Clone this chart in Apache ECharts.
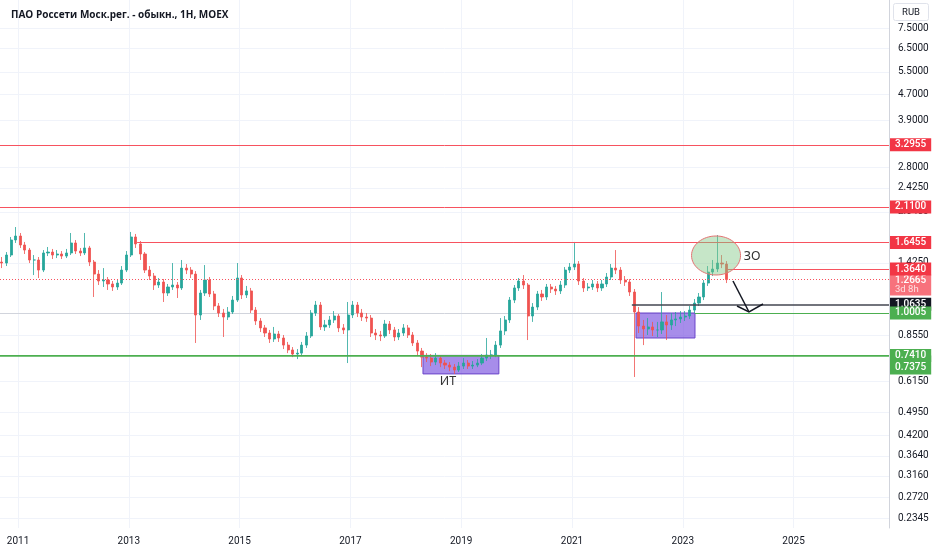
<!DOCTYPE html>
<html>
<head>
<meta charset="utf-8">
<script src="https://cdn.jsdelivr.net/npm/echarts@6/dist/echarts.min.js"></script>
<style>
html, body { margin: 0; padding: 0; background: #fff; }
#main { width: 932px; height: 550px; }
</style>
</head>
<body>
<div id="main"></div>
<script>
// monthly candles, first one = September 2010
var startYear = 2010, startMonth = 8;
// [open, close, low, high]
var ohlc = [
	[1.434,1.424,1.374,1.486],[1.424,1.507,1.394,1.539],[1.507,1.676,1.486,1.712],[1.676,1.724,1.641,1.837],
	[1.724,1.618,1.584,1.761],[1.618,1.561,1.518,1.653],[1.561,1.455,1.424,1.584],[1.455,1.455,1.308,1.507],
	[1.455,1.355,1.281,1.486],[1.355,1.529,1.336,1.561],[1.529,1.539,1.496,1.595],[1.539,1.507,1.465,1.573],
	[1.507,1.518,1.475,1.561],[1.518,1.496,1.465,1.550],[1.496,1.529,1.475,1.573],[1.529,1.641,1.507,1.761],
	[1.641,1.550,1.518,1.676],[1.550,1.529,1.496,1.584],[1.529,1.584,1.507,1.761],[1.584,1.434,1.394,1.607],
	[1.434,1.317,1.120,1.455],[1.317,1.254,1.219,1.355],[1.254,1.263,1.202,1.374],[1.263,1.228,1.177,1.290],
	[1.228,1.202,1.169,1.254],[1.202,1.236,1.177,1.263],[1.236,1.355,1.219,1.394],[1.355,1.507,1.336,1.550],
	[1.507,1.712,1.486,1.774],[1.712,1.630,1.584,1.749],[1.630,1.518,1.455,1.664],[1.518,1.355,1.327,1.539],
	[1.355,1.299,1.263,1.394],[1.299,1.219,1.177,1.327],[1.219,1.245,1.194,1.281],[1.245,1.152,1.081,1.272],
	[1.152,1.202,1.128,1.228],[1.202,1.219,1.177,1.424],[1.219,1.194,1.112,1.245],[1.194,1.374,1.177,1.455],
	[1.374,1.355,1.317,1.414],[1.355,1.317,1.281,1.384],[1.317,0.986,0.809,1.345],[0.986,1.152,0.952,1.177],
	[1.152,1.263,1.128,1.404],[1.263,1.144,1.120,1.290],[1.144,1.051,1.021,1.169],[1.051,1.000,0.972,1.073],
	[1.000,0.972,0.844,1.029],[0.972,1.007,0.952,1.043],[1.007,1.096,0.993,1.128],[1.096,1.281,1.081,1.424],
	[1.281,1.136,1.104,1.308],[1.136,1.169,1.112,1.211],[1.169,1.021,1.000,1.194],[1.021,0.945,0.919,1.043],
	[0.945,0.900,0.874,0.965],[0.900,0.868,0.844,0.919],[0.868,0.832,0.809,0.887],[0.832,0.862,0.815,0.906],
	[0.862,0.838,0.815,0.881],[0.838,0.797,0.775,0.856],[0.797,0.770,0.753,0.815],[0.770,0.748,0.732,0.786],
	[0.748,0.753,0.722,0.775],[0.753,0.797,0.737,0.815],[0.797,0.850,0.781,0.874],[0.850,1.000,0.838,1.021],
	[1.000,1.058,0.979,1.089],[1.058,0.906,0.887,1.081],[0.906,0.919,0.881,0.952],[0.919,0.952,0.900,0.979],
	[0.952,0.979,0.932,1.014],[0.979,0.900,0.874,0.993],[0.900,0.887,0.862,0.925],[0.887,0.986,0.702,1.081],
	[0.986,1.058,0.965,1.089],[1.058,1.000,0.972,1.081],[1.000,0.972,0.945,1.029],[0.972,0.965,0.939,1.000],
	[0.965,0.868,0.844,0.986],[0.868,0.856,0.826,0.893],[0.856,0.850,0.820,0.881],[0.850,0.925,0.838,0.952],
	[0.925,0.887,0.862,0.945],[0.887,0.844,0.820,0.906],[0.844,0.868,0.826,0.893],[0.868,0.900,0.850,0.925],
	[0.900,0.856,0.838,0.919],[0.856,0.809,0.792,0.874],[0.809,0.764,0.743,0.826],[0.764,0.732,0.682,0.781],
	[0.732,0.727,0.707,0.753],[0.727,0.707,0.687,0.748],[0.707,0.727,0.692,0.753],[0.727,0.702,0.682,0.743],
	[0.702,0.692,0.673,0.717],[0.692,0.682,0.663,0.707],[0.682,0.668,0.650,0.697],[0.668,0.687,0.659,0.707],
	[0.687,0.702,0.673,0.727],[0.702,0.687,0.673,0.717],[0.687,0.692,0.673,0.712],[0.692,0.702,0.682,0.722],
	[0.702,0.727,0.692,0.748],[0.727,0.743,0.712,0.838],[0.743,0.743,0.722,0.770],[0.743,0.797,0.732,0.820],
	[0.797,0.881,0.781,0.965],[0.881,0.952,0.856,0.979],[0.952,1.096,0.932,1.120],[1.096,1.194,1.073,1.219],
	[1.194,1.254,1.169,1.281],[1.254,1.219,1.185,1.308],[1.219,0.979,0.826,1.236],[0.979,1.043,0.939,1.073],
	[1.043,1.144,1.021,1.169],[1.144,1.120,1.089,1.177],[1.120,1.202,1.096,1.228],[1.202,1.185,1.152,1.228],
	[1.185,1.169,1.136,1.211],[1.169,1.219,1.144,1.254],[1.219,1.355,1.194,1.384],[1.355,1.384,1.327,1.424],
	[1.384,1.414,1.355,1.653],[1.414,1.254,1.219,1.444],[1.254,1.194,1.160,1.281],[1.194,1.202,1.169,1.236],
	[1.202,1.228,1.177,1.263],[1.228,1.194,1.160,1.254],[1.194,1.228,1.169,1.263],[1.228,1.290,1.202,1.327],
	[1.290,1.374,1.263,1.414],[1.374,1.355,1.317,1.561],[1.355,1.263,1.228,1.384],[1.263,1.245,1.211,1.299],
	[1.245,1.160,1.128,1.272],[1.160,1.007,0.636,1.185],[1.007,0.912,0.868,1.043],[0.912,0.893,0.797,0.952],
	[0.893,0.906,0.856,0.965],[0.906,0.887,0.850,0.939],[0.887,0.887,0.844,0.939],[0.887,0.939,0.862,1.160],
	[0.939,0.919,0.826,0.986],[0.919,0.952,0.887,1.000],[0.952,0.959,0.912,1.007],[0.959,0.972,0.932,1.014],
	[0.972,0.979,0.945,1.014],[0.979,1.021,0.959,1.051],[1.021,1.073,1.000,1.104],[1.073,1.120,1.051,1.152],
	[1.120,1.236,1.096,1.263],[1.236,1.336,1.211,1.394],[1.336,1.365,1.299,1.455],[1.365,1.424,1.336,1.736],
	[1.424,1.414,1.374,1.507],[1.414,1.2665,1.236,1.444]
];

// 轴刻度
var yearTicks = [2011, 2013, 2015, 2017, 2019, 2021, 2023, 2025];
var priceTicks = [7.5, 6.5, 5.5, 4.7, 3.9, 2.8, 2.425, 2.045, 1.425, 0.855, 0.615, 0.495, 0.42, 0.364, 0.316, 0.272, 0.2345];

// 水平线 [价格, 起始年份(null = 全宽), 类型]
var levels = [
	[3.2955, null, 'red'],
	[2.1100, null, 'red'],
	[1.6455, 2013.15, 'red'],
	[1.3640, 2023.80, 'red'],
	[1.0635, 2022.08, 'black'],
	[1.0005, 2023.22, 'green'],
	[0.7375, null, 'green2'],
	[0.7410, null, 'green']
];
var lastPrice = 1.2665, lastTimer = '3d 8h';

// 区域 [起始, 结束, 上, 下]
var boxes = [
	[2018.31, 2019.68, 0.741, 0.650],
	[2022.155, 2023.22, 1.000, 0.838]
];

var xMin = 2010.675, xMax = 2026.722;
var yMin = 0.2186, yMax = 9.15;
var font = 'Roboto, "Noto Sans", sans-serif';

var candleData = [];
for (var i = 0; i < ohlc.length; i++) {
	var t = startYear + (startMonth + i + 0.5) / 12;
	var r = ohlc[i];
	candleData.push([t, Math.log(r[0]), Math.log(r[1]), Math.log(r[2]), Math.log(r[3])]);
}

var tagColor = { red: '#f23645', black: '#131722', green: '#4caf50', green2: '#4caf50' };
var lineColor = { red: '#f7525f', black: '#434651', green: '#4caf50', green2: '#4caf50' };

function tagLabel(color, extra) {
	var l = {
		show: true, position: 'end', distance: 1, formatter: '{b}',
		color: '#fff', backgroundColor: color, padding: [2, 5, 1, 5],
		fontSize: 10, fontFamily: font, fontWeight: 500, lineHeight: 10
	};
	for (var k in extra) l[k] = extra[k];
	return l;
}

var lineData = [];
// 当前价格（虚线）
lineData.push({
	name: '', yAxis: Math.log(lastPrice),
	lineStyle: { color: '#f7525f', width: 1, type: [1, 2] },
	label: { show: false }
});
levels.forEach(function (lv) {
	var name = lv[0].toFixed(4), y = Math.log(lv[0]);
	var w = lv[2] == 'black' ? 1.5 : (lv[0] == 0.741 ? 1.5 : 1);
	var ls = { color: lineColor[lv[2]], width: w, type: 'solid' };
	var lab = lv[2] == 'green2' ? tagLabel(tagColor.green, { verticalAlign: 'top', padding: [7, 5, 2, 5] }) : tagLabel(tagColor[lv[2]]);
	if (lv[1] == null) {
		lineData.push({ name: name, yAxis: y, lineStyle: ls, label: lab });
	} else {
		lineData.push([{ name: name, coord: [lv[1], y], lineStyle: ls, label: lab }, { coord: [xMax, y] }]);
	}
});

var areaData = boxes.map(function (b) {
	return [{ coord: [b[0], Math.log(b[2])] }, { coord: [b[1], Math.log(b[3])] }];
});

var chart = echarts.init(document.getElementById('main'));
var option = {
	animation: false,
	backgroundColor: '#fff',
	title: {
		text: 'ПАО Россети Моск.рег. - обыкн., 1H, MOEX',
		left: 6, top: 5,
		textStyle: { fontSize: 10, fontWeight: 'bold', color: '#131722', fontFamily: '"Open Sans", "Noto Sans", sans-serif' }
	},
	grid: { left: 0, right: 43, top: 0, bottom: 22 },
	xAxis: {
		type: 'value', min: xMin, max: xMax,
		axisLine: { lineStyle: { color: '#d1d4dc' } },
		axisTick: { show: false, customValues: yearTicks },
		axisLabel: {
			customValues: yearTicks, color: '#131722', fontSize: 10, fontFamily: font, margin: 8,
			formatter: function (v) { return String(Math.round(v)); }
		},
		splitLine: { show: true, lineStyle: { color: '#f0f3fa' } }
	},
	yAxis: {
		type: 'value', position: 'right', scale: true,
		min: Math.log(yMin), max: Math.log(yMax),
		axisLine: { show: true, lineStyle: { color: '#d1d4dc' } },
		axisTick: { show: false, customValues: priceTicks.map(Math.log) },
		axisLabel: {
			customValues: priceTicks.map(Math.log), color: '#131722', fontSize: 10, fontFamily: font, margin: 9,
			formatter: function (v) { return Math.exp(v).toFixed(4); }
		},
		splitLine: { show: true, lineStyle: { color: '#f0f3fa' } }
	},
	series: [{
		type: 'candlestick',
		data: candleData,
		barWidth: 2.6,
		itemStyle: {
			color: '#26a69a', color0: '#ef5350',
			borderColor: '#26a69a', borderColor0: '#ef5350', borderWidth: 0.8
		},
		markArea: {
			silent: true,
			itemStyle: { color: 'rgba(126, 87, 224, 0.68)', borderColor: '#6a45c9', borderWidth: 1 },
			label: { show: false },
			data: areaData
		},
		markLine: {
			silent: true, symbol: ['none', 'none'],
			data: lineData
		}
	}]
};
chart.setOption(option);

// 注释：椭圆、箭头、文字
function px(t, v) {
	return chart.convertToPixel({ gridIndex: 0 }, [t, Math.log(v)]);
}
var ellC = px(2023.60, 1.502);
var arrA = px(2023.906, 1.254), arrB = px(2024.195, 1.007);
var itPos = px(2018.76, 0.615), zoPos = px(2024.25, 1.497);
var lastPos = px(xMax, lastPrice);

chart.setOption({
	graphic: [
		{
			type: 'ellipse', z: 10,
			shape: { cx: ellC[0], cy: ellC[1], rx: 24.5, ry: 19.5 },
			style: { fill: 'rgba(129, 199, 132, 0.45)', stroke: '#e57373', lineWidth: 1 }
		},
		{
			type: 'polyline', z: 10,
			shape: { points: [arrA, arrB] },
			style: { stroke: '#131722', lineWidth: 1.5, fill: null }
		},
		{
			type: 'polyline', z: 10,
			shape: { points: [[arrB[0] - 12, arrB[1] - 6], arrB, [arrB[0] + 14, arrB[1] - 8]] },
			style: { stroke: '#131722', lineWidth: 1.5, fill: null }
		},
		{
			type: 'text', z: 10, x: itPos[0], y: itPos[1],
			style: { text: 'ИТ', fill: '#333', fontSize: 12.5, fontFamily: '"Noto Sans", sans-serif', align: 'center', verticalAlign: 'middle' }
		},
		{
			type: 'text', z: 10, x: zoPos[0], y: zoPos[1],
			style: { text: 'ЗО', fill: '#333', fontSize: 12.5, fontFamily: '"Noto Sans", sans-serif', align: 'center', verticalAlign: 'middle' }
		},
		// 当前价格标签（TradingView 自动下移以避开 1.3640）
		{
			type: 'text', z: 5, x: lastPos[0] + 1, y: lastPos[1] - 5,
			style: {
				text: '{p|' + lastPrice.toFixed(4) + '}\n{c|' + lastTimer + '}',
				backgroundColor: '#f7727c', padding: [1, 5, 1, 5], verticalAlign: 'top', align: 'left',
				rich: {
					p: { fill: '#fff', fontSize: 10, fontFamily: font, fontWeight: 500, lineHeight: 10 },
					c: { fill: '#fde0e2', fontSize: 9.5, fontFamily: font, lineHeight: 9 }
				}
			}
		},
		{
			type: 'group', left: 893, top: 3,
			children: [
				{ type: 'rect', shape: { x: 0, y: 0, width: 35, height: 17, r: 2 }, style: { fill: '#fff', stroke: '#e0e3eb', lineWidth: 1 } },
				{ type: 'text', x: 17.5, y: 9, style: { text: 'RUB', fill: '#131722', fontSize: 9.5, fontFamily: font, align: 'center', verticalAlign: 'middle' } }
			]
		}
	]
});
</script>
</body>
</html>
